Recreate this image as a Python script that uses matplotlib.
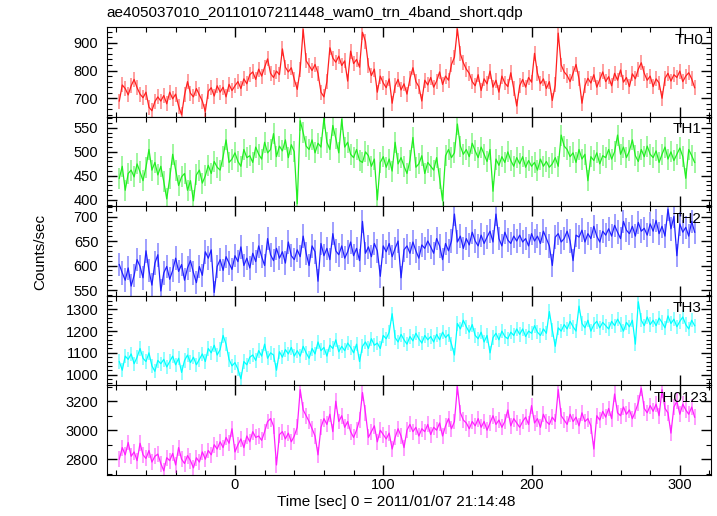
import numpy as np
import matplotlib
matplotlib.use("Agg")
import matplotlib.pyplot as plt
from matplotlib.ticker import MultipleLocator

plt.rcParams['font.family'] = ['Liberation Sans', 'DejaVu Sans']

# 2 s bins, start times (-78 ... 310)
time = np.arange(-78, 311, 2)

th0 = [690, 748, 735, 712, 745, 768, 738, 715, 702, 722, 668, 655, 688, 705, 690,
       710, 680, 722, 698, 715, 672, 640, 712, 760, 718, 705, 735, 712, 690, 652,
       725, 738, 708, 745, 722, 740, 705, 750, 728, 745, 760, 735, 770, 752, 785,
       795, 768, 805, 780, 812, 842, 790, 775, 798, 785, 878, 812, 795, 810, 768,
       732, 805, 948, 835, 818, 800, 822, 790, 722, 705, 760, 882, 845, 830, 852,
       818, 835, 762, 870, 825, 840, 812, 938, 905, 818, 782, 805, 722, 780, 755,
       738, 770, 682, 745, 768, 730, 752, 715, 770, 810, 760, 742, 690, 765, 748,
       775, 740, 762, 795, 750, 780, 765, 822, 848, 950, 860, 828, 805, 790, 760,
       745, 785, 728, 770, 752, 798, 740, 765, 722, 780, 755, 742, 792, 735, 672,
       745, 768, 740, 775, 758, 862, 790, 752, 770, 735, 760, 692, 748, 935, 820,
       795, 782, 760, 790, 822, 770, 682, 745, 772, 755, 785, 740, 768, 795, 760,
       778, 745, 790, 765, 802, 758, 775, 742, 788, 770, 805, 828, 790, 765, 780,
       742, 770, 755, 700, 772, 790, 762, 785, 775, 798, 760, 780, 792, 770, 738]

th1 = [445, 470, 420, 455, 462, 448, 475, 458, 440, 468, 505, 462, 478, 452, 470,
       438, 402, 445, 495, 462, 430, 448, 455, 420, 440, 398, 452, 462, 435, 450,
       472, 455, 480, 468, 462, 490, 525, 478, 485, 498, 480, 470, 505, 488, 492,
       478, 510, 495, 485, 520, 498, 505, 538, 490, 512, 502, 525, 488, 515, 500,
       392, 565, 540, 512, 505, 525, 498, 518, 510, 570, 520, 505, 555, 528, 498,
       568, 510, 520, 495, 488, 505, 482, 478, 500, 492, 470, 485, 400, 478, 490,
       468, 485, 460, 520, 475, 488, 470, 455, 482, 530, 468, 475, 492, 455, 478,
       470, 462, 488, 445, 398, 492, 505, 488, 498, 558, 512, 495, 505, 490, 518,
       502, 488, 510, 495, 480, 505, 418, 485, 472, 490, 478, 500, 482, 470, 488,
       475, 490, 468, 482, 470, 478, 462, 485, 470, 480, 468, 475, 488, 470, 535,
       512, 505, 490, 498, 478, 505, 485, 495, 440, 490, 482, 498, 475, 492, 488,
       505, 485, 500, 535, 495, 510, 488, 502, 525, 492, 480, 505, 490, 512, 495,
       488, 502, 478, 495, 510, 485, 500, 482, 495, 508, 490, 445, 505, 492, 478]

th2 = [602, 585, 570, 595, 558, 580, 612, 598, 575, 630, 590, 560, 605, 622, 548,
       585, 598, 572, 590, 615, 588, 602, 570, 595, 610, 585, 565, 598, 580, 628,
       615, 632, 545, 598, 612, 590, 618, 605, 592, 620, 608, 638, 600, 615, 595,
       625, 608, 640, 618, 600, 655, 622, 610, 635, 615, 628, 605, 648, 620, 612,
       632, 618, 660, 625, 600, 640, 628, 568, 645, 620, 635, 612, 665, 630, 622,
       640, 615, 628, 648, 620, 635, 610, 690, 625, 638, 618, 645, 630, 578, 640,
       628, 645, 618, 635, 650, 575, 632, 640, 625, 648, 630, 615, 642, 635, 650,
       638, 625, 655, 640, 612, 645, 630, 650, 705, 648, 660, 635, 655, 642, 668,
       650, 640, 662, 645, 658, 670, 648, 705, 655, 640, 668, 652, 645, 660, 650,
       662, 648, 655, 640, 665, 650, 660, 645, 670, 655, 640, 600, 658, 665, 648,
       655, 670, 650, 610, 662, 658, 672, 648, 665, 655, 680, 660, 648, 670, 662,
       675, 660, 682, 668, 655, 690, 672, 665, 680, 660, 688, 670, 676, 662, 685,
       670, 692, 665, 680, 660, 715, 675, 700, 620, 685, 668, 678, 660, 690, 668]

th3 = [1060, 1020, 1085, 1070, 1095, 1050, 1080, 1120, 1075, 1060, 1100, 1040, 1015, 1065, 1050,
       1070, 1035, 1060, 1085, 1045, 1075, 1010, 1065, 1090, 1055, 1080, 1045, 1070, 1095, 1060,
       1120, 1100, 1135, 1090, 1115, 1180, 1140, 1070, 1040, 1055, 1025, 980, 1060, 1045, 1080,
       1090, 1065, 1110, 1085, 1140, 1075, 1100, 1090, 1020, 1105, 1080, 1115, 1095, 1125, 1085,
       1110, 1085, 1130, 1100, 1075, 1120, 1095, 1150, 1110, 1125, 1085, 1135, 1120, 1160, 1105,
       1130, 1110, 1145, 1125, 1100, 1140, 1060, 1130, 1150, 1120, 1165, 1135, 1145, 1120, 1180,
       1165, 1195, 1280, 1170, 1150, 1185, 1160, 1140, 1175, 1155, 1190, 1165, 1145, 1180, 1160,
       1175, 1150, 1185, 1160, 1195, 1170, 1185, 1140, 1090, 1235, 1210, 1250, 1220, 1195, 1230,
       1180, 1165, 1195, 1150, 1180, 1100, 1170, 1190, 1160, 1200, 1175, 1165, 1195, 1180, 1210,
       1185, 1210, 1175, 1200, 1190, 1225, 1195, 1180, 1210, 1190, 1290, 1205, 1130, 1215, 1200,
       1230, 1210, 1245, 1220, 1200, 1315, 1235, 1215, 1250, 1200, 1230, 1245, 1215, 1240, 1225,
       1210, 1245, 1225, 1255, 1230, 1200, 1240, 1220, 1250, 1140, 1335, 1250, 1225, 1265, 1230,
       1250, 1225, 1260, 1240, 1215, 1270, 1235, 1255, 1220, 1245, 1265, 1230, 1210, 1250, 1225]

th0123 = [2800, 2880, 2830, 2915, 2820, 2850, 2790, 2910, 2830, 2805, 2860, 2780, 2820, 2835, 2770,
          2720, 2810, 2790, 2840, 2760, 2880, 2800, 2770, 2825, 2790, 2740, 2810, 2780, 2850, 2800,
          2860, 2830, 2900, 2870, 2920, 2880, 2950, 2910, 3010, 2850, 2900, 2940, 2880, 2960, 2920,
          2990, 2950, 2960, 2930, 2990, 3060, 3080, 3030, 2760, 2970, 2990, 2940, 2980, 2920, 2960,
          3020, 3280, 3140, 3100, 3060, 3010, 2960, 2830, 3020, 3080, 3040, 3110, 2990, 3200, 3060,
          3100, 3020, 3060, 2990, 2950, 3000, 3070, 3260, 3120, 2950, 2990, 3030, 2920, 3000, 2970,
          2940, 2980, 2870, 2950, 3010, 2960, 2880, 3000, 3040, 2990, 3020, 2960, 3010, 2990, 3040,
          2970, 3020, 3000, 3050, 2960, 3030, 3080, 3010, 3060, 3300, 3120, 3070, 3050, 3010, 3060,
          3030, 3080, 3020, 3060, 3000, 3050, 3100, 3040, 3070, 3020, 3060, 3140, 3030, 3080, 3050,
          3020, 3060, 3090, 3040, 3170, 3050, 3080, 3020, 3110, 3060, 3040, 3090, 3060, 3280, 3100,
          3070, 3040, 3110, 3060, 3090, 3030, 3120, 3060, 3080, 3030, 2870, 3100, 3070, 3130, 3090,
          3150, 3080, 3250, 3120, 3100, 3160, 3110, 3140, 3080, 3130, 3190, 3290, 3150, 3120, 3170,
          3130, 3180, 3100, 3280, 3150, 3120, 2980, 3160, 3200, 3110, 3180, 3140, 3110, 3160, 3090]

# panel setup: series, error size, colour, label, y range, major/minor tick steps, label x
panels = [
    (th0, 27, '#ff2020', 'TH0', (633, 956), 100, 20, 0.987),
    (th1, 22, '#22ee22', 'TH1', (386.5, 573), 50, 10, 0.984),
    (th2, 24, '#2020ff', 'TH2', (538, 720.7), 50, 10, 0.985),
    (th3, 33, '#00ffff', 'TH3', (950, 1362), 100, 20, 0.985),
    (th0123, 55, '#ff20ff', 'TH0123', (2691, 3309), 200, 100, 0.995),
]

fig = plt.figure(figsize=(7.17, 5.16), dpi=100)
gs = fig.add_gridspec(5, 1, left=0.1488, right=0.9916, top=0.9471, bottom=0.0795, hspace=0)

axes = []
for i, (vals, err, col, lab, ylim, maj, mnr, lx) in enumerate(panels):
    ax = fig.add_subplot(gs[i], sharex=axes[0] if axes else None)
    ax.errorbar(time, vals, yerr=err, fmt='none', ecolor=col, alpha=0.5, elinewidth=1.2)
    ax.plot(time, vals, color=col, lw=0.9)
    ax.set_ylim(*ylim)
    ax.yaxis.set_major_locator(MultipleLocator(maj))
    ax.yaxis.set_minor_locator(MultipleLocator(mnr))
    ax.tick_params(which='both', direction='in', top=True, right=True, labelsize=10.5)
    ax.tick_params(axis='y', pad=6)
    ax.tick_params(axis='x', pad=2.5)
    ax.tick_params(which='major', length=7, width=1)
    ax.tick_params(which='minor', length=3.5, width=0.8)
    ax.text(lx, 0.94, lab, transform=ax.transAxes, ha='right', va='top', fontsize=11)
    if i < 4:
        ax.tick_params(labelbottom=False)
    axes.append(ax)

axes[0].set_xlim(-86.5, 321)
axes[0].xaxis.set_major_locator(MultipleLocator(100))
axes[0].xaxis.set_minor_locator(MultipleLocator(20))

fig.text(0.1488, 0.975, 'ae405037010_20110107211448_wam0_trn_4band_short.qdp',
         ha='left', va='center', fontsize=11)
fig.text(0.552, 0.027, 'Time [sec] 0 = 2011/01/07 21:14:48', ha='center', va='center', fontsize=11)
fig.text(0.056, 0.512, 'Counts/sec', rotation=90, ha='center', va='center', fontsize=11)

fig.savefig('out.png', dpi=100)
